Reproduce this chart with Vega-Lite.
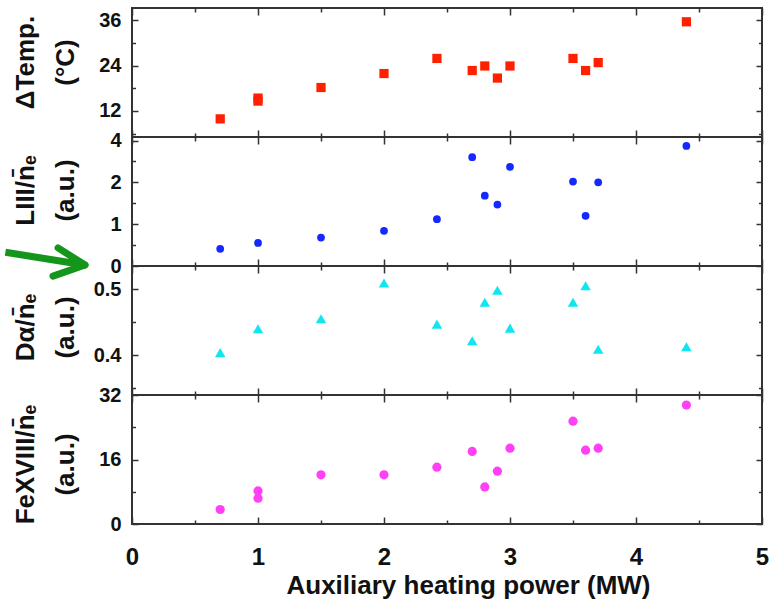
{
  "$schema": "https://vega.github.io/schema/vega-lite/v6.json",
  "padding": {"left": 0, "top": 6, "right": 6, "bottom": 4},
  "background": "white",
  "spacing": 0,
  "bounds": "flush",
  "datasets": {
    "temp": [
      {"power": 0.7, "delta_temp": 9.9},
      {"power": 1.0, "delta_temp": 15.4},
      {"power": 1.0, "delta_temp": 14.6},
      {"power": 1.5, "delta_temp": 18.2},
      {"power": 2.0, "delta_temp": 21.9},
      {"power": 2.42, "delta_temp": 25.9},
      {"power": 2.7, "delta_temp": 22.7},
      {"power": 2.8, "delta_temp": 23.9},
      {"power": 2.9, "delta_temp": 20.7},
      {"power": 3.0, "delta_temp": 23.9},
      {"power": 3.5, "delta_temp": 25.9},
      {"power": 3.6, "delta_temp": 22.7},
      {"power": 3.7, "delta_temp": 24.8},
      {"power": 4.4, "delta_temp": 35.6}
    ],
    "liii": [
      {"power": 0.7, "liii": 0.41},
      {"power": 1.0, "liii": 0.55},
      {"power": 1.5, "liii": 0.68},
      {"power": 2.0, "liii": 0.84},
      {"power": 2.42, "liii": 1.12},
      {"power": 2.7, "liii": 2.6},
      {"power": 2.8, "liii": 1.68},
      {"power": 2.9, "liii": 1.47},
      {"power": 3.0, "liii": 2.37},
      {"power": 3.5, "liii": 2.02},
      {"power": 3.6, "liii": 1.2},
      {"power": 3.7, "liii": 2.0},
      {"power": 4.4, "liii": 2.87}
    ],
    "dalpha": [
      {"power": 0.7, "d_alpha": 0.404},
      {"power": 1.0, "d_alpha": 0.44},
      {"power": 1.5, "d_alpha": 0.455},
      {"power": 2.0, "d_alpha": 0.509},
      {"power": 2.42, "d_alpha": 0.447},
      {"power": 2.7, "d_alpha": 0.422},
      {"power": 2.8, "d_alpha": 0.48},
      {"power": 2.9, "d_alpha": 0.498},
      {"power": 3.0, "d_alpha": 0.441},
      {"power": 3.5, "d_alpha": 0.48},
      {"power": 3.6, "d_alpha": 0.505},
      {"power": 3.7, "d_alpha": 0.409},
      {"power": 4.4, "d_alpha": 0.413}
    ],
    "fexviii": [
      {"power": 0.7, "fexviii": 3.6},
      {"power": 1.0, "fexviii": 8.2},
      {"power": 1.0, "fexviii": 6.4},
      {"power": 1.5, "fexviii": 12.2},
      {"power": 2.0, "fexviii": 12.2},
      {"power": 2.42, "fexviii": 14.1},
      {"power": 2.7, "fexviii": 18.0},
      {"power": 2.8, "fexviii": 9.2},
      {"power": 2.9, "fexviii": 13.1},
      {"power": 3.0, "fexviii": 18.8},
      {"power": 3.5, "fexviii": 25.5},
      {"power": 3.6, "fexviii": 18.3},
      {"power": 3.7, "fexviii": 18.8},
      {"power": 4.4, "fexviii": 29.5}
    ],
    "arrow_shaft": [
      {"x_start": -1.005, "y_start": 0.33, "x_end": -0.373, "y_end": 0.024}
    ],
    "arrow_head": [
      {"x_start": -0.587, "y_start": 0.434, "x_end": -0.373, "y_end": 0.024},
      {"x_start": -0.627, "y_start": -0.241, "x_end": -0.373, "y_end": 0.024}
    ]
  },
  "vconcat": [
    {
      "width": 630,
      "height": 129,
      "data": {"name": "temp"},
      "layer": [
        {
          "mark": {"type": "point", "shape": "square", "filled": true, "size": 85, "color": "#ff2000", "opacity": 1},
          "encoding": {
            "x": {"field": "power", "type": "quantitative", "scale": {"domain": [0, 5], "nice": false, "zero": false},
              "axis": {"orient": "bottom", "values": [0, 0.5, 1, 1.5, 2, 2.5, 3, 3.5, 4, 4.5, 5], "labels": false, "title": null,
                "tickSize": {"condition": {"test": "datum.value % 1 !== 0", "value": -4}, "value": -7}}},
            "y": {"field": "delta_temp", "type": "quantitative", "scale": {"domain": [5.1, 39.25], "nice": false, "zero": false},
              "axis": {"orient": "left", "values": [6, 12, 18, 24, 30, 36], "format": "~g",
                "labelExpr": "datum.value % 12 === 0 ? datum.label : ''",
                "tickSize": {"condition": {"test": "datum.value % 12 !== 0", "value": -3.5}, "value": -6},
                "title": ["\u0394Temp.", "(\u00b0C)"], "titleX": -93.5, "titleY": 54}}
          }
        },
        {
          "mark": {"type": "point", "opacity": 0},
          "encoding": {
            "x": {"field": "power", "type": "quantitative", "scale": {"domain": [0, 5], "nice": false, "zero": false},
              "axis": {"orient": "top", "values": [0, 0.5, 1, 1.5, 2, 2.5, 3, 3.5, 4, 4.5, 5], "labels": false, "title": null,
                "tickSize": {"condition": {"test": "datum.value % 1 !== 0", "value": -4}, "value": -7}}},
            "y": {"field": "delta_temp", "type": "quantitative", "scale": {"domain": [5.1, 39.25], "nice": false, "zero": false},
              "axis": {"orient": "right", "values": [6, 12, 18, 24, 30, 36], "labels": false, "title": null,
                "tickSize": {"condition": {"test": "datum.value % 12 !== 0", "value": -3.5}, "value": -6}}}
          }
        }
      ],
      "resolve": {"axis": {"x": "independent", "y": "independent"}}
    },
    {
      "width": 630,
      "height": 129,
      "layer": [
        {
          "data": {"name": "liii"},
          "mark": {"type": "point", "shape": "circle", "filled": true, "size": 60, "color": "#1428ff", "opacity": 1},
          "encoding": {
            "x": {"field": "power", "type": "quantitative", "scale": {"domain": [0, 5], "nice": false, "zero": false},
              "axis": {"orient": "bottom", "values": [0, 0.5, 1, 1.5, 2, 2.5, 3, 3.5, 4, 4.5, 5], "labels": false, "title": null,
                "tickSize": {"condition": {"test": "datum.value % 1 !== 0", "value": -4}, "value": -7}}},
            "y": {"field": "liii", "type": "quantitative", "scale": {"domain": [0, 3.084], "nice": false, "zero": false},
              "axis": {"orient": "left", "values": [0, 0.5, 1, 1.5, 2, 2.5, 3], "format": "~g",
                "labelExpr": "datum.value === 3 ? '4' : (datum.value % 1 === 0 ? datum.label : '')",
                "tickSize": {"condition": {"test": "datum.value % 1 !== 0", "value": -3.5}, "value": -6},
                "title": ["LIII/n\u0304\u2091", "(a.u.)"], "titleX": -93.5, "titleY": 53}}
          }
        },
        {
          "data": {"name": "liii"},
          "mark": {"type": "point", "opacity": 0},
          "encoding": {
            "x": {"field": "power", "type": "quantitative", "scale": {"domain": [0, 5], "nice": false, "zero": false},
              "axis": {"orient": "top", "values": [0, 0.5, 1, 1.5, 2, 2.5, 3, 3.5, 4, 4.5, 5], "labels": false, "title": null,
                "tickSize": {"condition": {"test": "datum.value % 1 !== 0", "value": -4}, "value": -7}}},
            "y": {"field": "liii", "type": "quantitative", "scale": {"domain": [0, 3.084], "nice": false, "zero": false},
              "axis": {"orient": "right", "values": [0, 0.5, 1, 1.5, 2, 2.5, 3], "labels": false, "title": null,
                "tickSize": {"condition": {"test": "datum.value % 1 !== 0", "value": -3.5}, "value": -6}}}
          }
        },
        {
          "data": {"name": "arrow_shaft"},
          "mark": {"type": "rule", "color": "#15961b", "strokeWidth": 7, "strokeCap": "butt"},
          "encoding": {
            "x": {"field": "x_start", "type": "quantitative", "scale": {"domain": [0, 5], "nice": false, "zero": false}, "axis": null},
            "x2": {"field": "x_end"},
            "y": {"field": "y_start", "type": "quantitative", "scale": {"domain": [0, 3.084], "nice": false, "zero": false}, "axis": null},
            "y2": {"field": "y_end"}
          }
        },
        {
          "data": {"name": "arrow_head"},
          "mark": {"type": "rule", "color": "#15961b", "strokeWidth": 7, "strokeCap": "round"},
          "encoding": {
            "x": {"field": "x_start", "type": "quantitative", "scale": {"domain": [0, 5], "nice": false, "zero": false}, "axis": null},
            "x2": {"field": "x_end"},
            "y": {"field": "y_start", "type": "quantitative", "scale": {"domain": [0, 3.084], "nice": false, "zero": false}, "axis": null},
            "y2": {"field": "y_end"}
          }
        }
      ],
      "resolve": {"axis": {"x": "independent", "y": "independent"}}
    },
    {
      "width": 630,
      "height": 129,
      "data": {"name": "dalpha"},
      "layer": [
        {
          "mark": {"type": "point", "shape": "triangle-up", "filled": true, "size": 110, "color": "#10e6ef", "opacity": 1},
          "encoding": {
            "x": {"field": "power", "type": "quantitative", "scale": {"domain": [0, 5], "nice": false, "zero": false},
              "axis": {"orient": "bottom", "values": [0, 0.5, 1, 1.5, 2, 2.5, 3, 3.5, 4, 4.5, 5], "labels": false, "title": null,
                "tickSize": {"condition": {"test": "datum.value % 1 !== 0", "value": -4}, "value": -7}}},
            "y": {"field": "d_alpha", "type": "quantitative", "scale": {"domain": [0.3401, 0.5347], "nice": false, "zero": false},
              "axis": {"orient": "left", "values": [0.35, 0.4, 0.45, 0.5], "format": "~g",
                "labelExpr": "(datum.value === 0.4 || datum.value === 0.5) ? datum.label : ''",
                "tickSize": {"condition": {"test": "datum.value === 0.35 || datum.value === 0.45", "value": -3.5}, "value": -6},
                "title": ["D\u03b1/n\u0304\u2091", "(a.u.)"], "titleX": -93.5, "titleY": 61}}
          }
        },
        {
          "mark": {"type": "point", "opacity": 0},
          "encoding": {
            "x": {"field": "power", "type": "quantitative", "scale": {"domain": [0, 5], "nice": false, "zero": false},
              "axis": {"orient": "top", "values": [0, 0.5, 1, 1.5, 2, 2.5, 3, 3.5, 4, 4.5, 5], "labels": false, "title": null,
                "tickSize": {"condition": {"test": "datum.value % 1 !== 0", "value": -4}, "value": -7}}},
            "y": {"field": "d_alpha", "type": "quantitative", "scale": {"domain": [0.3401, 0.5347], "nice": false, "zero": false},
              "axis": {"orient": "right", "values": [0.35, 0.4, 0.45, 0.5], "labels": false, "title": null,
                "tickSize": {"condition": {"test": "datum.value === 0.35 || datum.value === 0.45", "value": -3.5}, "value": -6}}}
          }
        }
      ],
      "resolve": {"axis": {"x": "independent", "y": "independent"}}
    },
    {
      "width": 630,
      "height": 129,
      "data": {"name": "fexviii"},
      "layer": [
        {
          "mark": {"type": "point", "shape": "circle", "filled": true, "size": 85, "color": "#ff40f6", "opacity": 1},
          "encoding": {
            "x": {"field": "power", "type": "quantitative", "scale": {"domain": [0, 5], "nice": false, "zero": false},
              "axis": {"orient": "bottom", "values": [0, 0.5, 1, 1.5, 2, 2.5, 3, 3.5, 4, 4.5, 5], "format": "~g",
                "labelExpr": "datum.value % 1 === 0 ? datum.label : ''",
                "labelFontSize": 24, "labelPadding": 28,
                "tickSize": {"condition": {"test": "datum.value % 1 !== 0", "value": -4}, "value": -7},
                "title": "Auxiliary heating power (MW)", "titleX": 336, "titleY": 48.5}},
            "y": {"field": "fexviii", "type": "quantitative", "scale": {"domain": [0, 32], "nice": false, "zero": false},
              "axis": {"orient": "left", "values": [0, 8, 16, 24, 32], "format": "~g",
                "labelExpr": "datum.value % 16 === 0 ? datum.label : ''",
                "tickSize": {"condition": {"test": "datum.value % 16 !== 0", "value": -3.5}, "value": -6},
                "title": ["FeXVIII/n\u0304\u2091", "(a.u.)"], "titleX": -93.5, "titleY": 69}}
          }
        },
        {
          "mark": {"type": "point", "opacity": 0},
          "encoding": {
            "x": {"field": "power", "type": "quantitative", "scale": {"domain": [0, 5], "nice": false, "zero": false},
              "axis": {"orient": "top", "values": [0, 0.5, 1, 1.5, 2, 2.5, 3, 3.5, 4, 4.5, 5], "labels": false, "title": null,
                "tickSize": {"condition": {"test": "datum.value % 1 !== 0", "value": -4}, "value": -7}}},
            "y": {"field": "fexviii", "type": "quantitative", "scale": {"domain": [0, 32], "nice": false, "zero": false},
              "axis": {"orient": "right", "values": [0, 8, 16, 24, 32], "labels": false, "title": null,
                "tickSize": {"condition": {"test": "datum.value % 16 !== 0", "value": -3.5}, "value": -6}}}
          }
        }
      ],
      "resolve": {"axis": {"x": "independent", "y": "independent"}}
    }
  ],
  "config": {
    "view": {"stroke": "#333333", "strokeWidth": 2},
    "axis": {
      "grid": false,
      "domain": false,
      "tickColor": "#333333",
      "tickWidth": 1.5,
      "labelFont": "Liberation Sans",
      "labelFontWeight": "bold",
      "labelFontSize": 20,
      "labelColor": "#111111",
      "labelPadding": 17,
      "labelOverlap": false,
      "labelFlush": false,
      "titleFont": "Liberation Sans",
      "titleFontWeight": "bold",
      "titleFontSize": 26,
      "titleLineHeight": 40,
      "titleColor": "#111111"
    }
  }
}
